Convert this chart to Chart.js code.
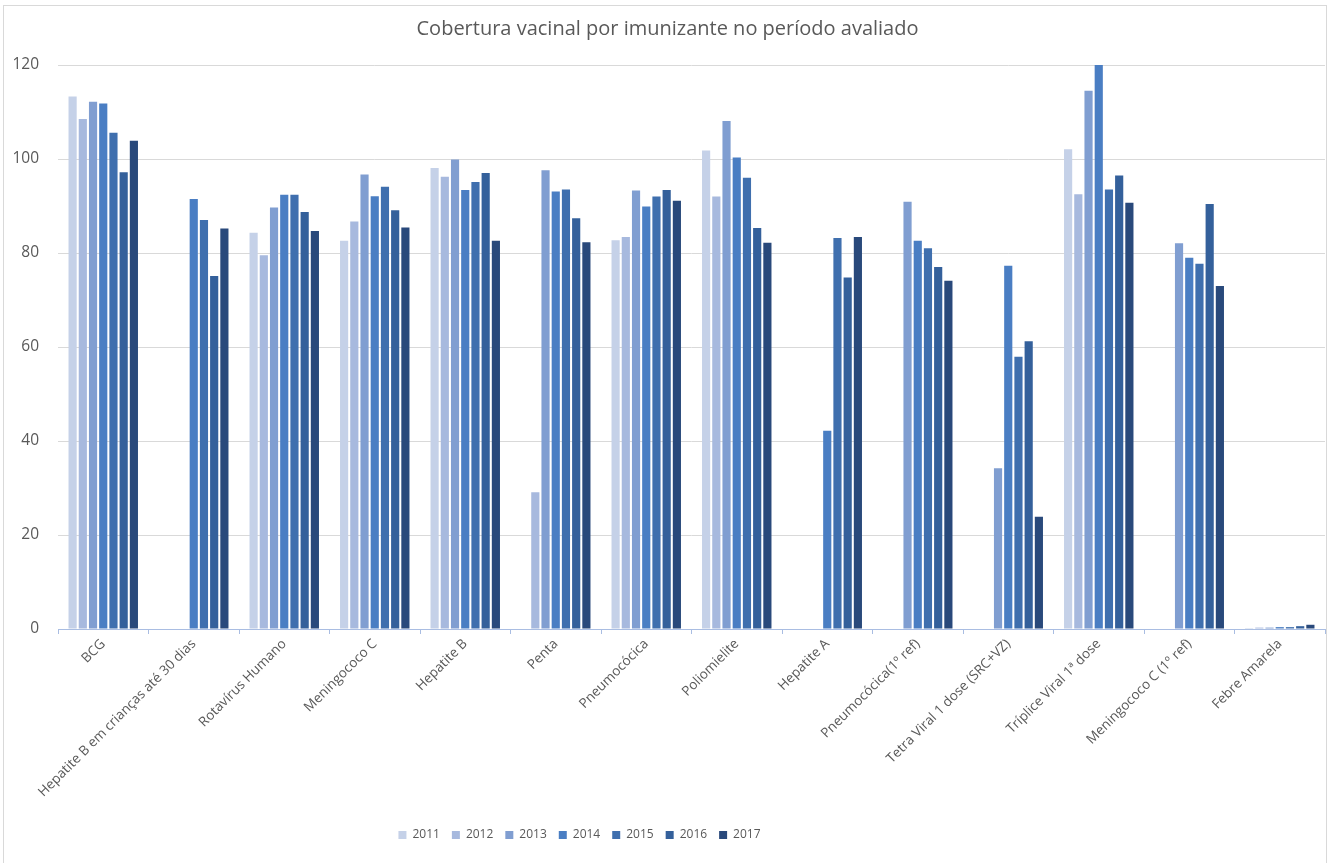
<!DOCTYPE html>
<html>
<head>
<meta charset="utf-8">
<script src="https://cdn.jsdelivr.net/npm/chart.js@4.4.1/dist/chart.umd.min.js"></script>
<style>
  html, body { margin: 0; padding: 0; background: #ffffff; }
  #wrap { width: 1334px; height: 863px; position: relative; }
</style>
</head>
<body>
<div id="wrap"><canvas id="c" width="1334" height="863"></canvas></div>
<script>
const categories = [
  "BCG",
  "Hepatite B em crianças até 30 dias",
  "Rotavírus Humano",
  "Meningococo C",
  "Hepatite B",
  "Penta",
  "Pneumocócica",
  "Poliomielite",
  "Hepatite A",
  "Pneumocócica(1º ref)",
  "Tetra Viral 1 dose (SRC+VZ)",
  "Tríplice Viral 1ª dose",
  "Meningococo C (1º ref)",
  "Febre Amarela"
];
const years = ["2011", "2012", "2013", "2014", "2015", "2016", "2017"];

const v2011 = [113.3, null, 84.3, 82.6, 98.1, null, 82.7, 101.8, null, null, null, 102.1, null, 0.2];
const v2012 = [108.5, null, 79.5, 86.7, 96.2, 29.1, 83.4, 92.0, null, null, null, 92.5, null, 0.3];
const v2013 = [112.2, null, 89.7, 96.7, 99.9, 97.6, 93.3, 108.1, null, 90.9, 34.2, 114.5, 82.1, 0.3];
const v2014 = [111.8, 91.5, 92.4, 92.1, 93.4, 93.1, 89.9, 100.3, 42.2, 82.6, 77.3, 120.0, 79.0, 0.4];
const v2015 = [105.6, 87.0, 92.4, 94.1, 95.1, 93.5, 92.0, 96.0, 83.2, 81.0, 57.9, 93.5, 77.7, 0.4];
const v2016 = [97.2, 75.1, 88.7, 89.1, 97.0, 87.4, 93.4, 85.3, 74.8, 77.0, 61.2, 96.5, 90.4, 0.6];
const v2017 = [103.9, 85.2, 84.7, 85.4, 82.6, 82.3, 91.1, 82.2, 83.4, 74.1, 23.9, 90.7, 73.0, 0.9];

const seriesValues = [v2011, v2012, v2013, v2014, v2015, v2016, v2017];
const seriesColors = ["#c5d1e8", "#a7b9de", "#809ed1", "#4a7ec3", "#3f6fae", "#34609b", "#29497b"];
const yTicks = [0, 20, 40, 60, 80, 100, 120];

const FONT = "'Open Sans', 'Noto Sans', sans-serif";
const TXT = "#595959";

const framePlugin = {
  id: 'frame',
  beforeDraw(chart) {
    const ctx = chart.ctx;
    ctx.save();
    ctx.fillStyle = '#ffffff';
    ctx.fillRect(0, 0, chart.width, chart.height);
    ctx.strokeStyle = '#d9d9d9';
    ctx.lineWidth = 1;
    ctx.strokeRect(3.5, 5.5, 1323, 880);
    ctx.restore();
    // the reference legend sits left of centre
    const lg = chart.legend;
    if (lg && !lg._shifted) {
      lg.left -= 88;
      lg.right -= 88;
      lg._shifted = true;
    }
  }
};

new Chart(document.getElementById('c'), {
  type: 'bar',
  data: {
    labels: categories,
    datasets: years.map((y, i) => ({
      label: y,
      data: seriesValues[i],
      backgroundColor: seriesColors[i],
      borderWidth: 0,
      categoryPercentage: 0.79,
      barPercentage: 0.8
    }))
  },
  options: {
    responsive: false,
    animation: false,
    layout: { padding: { left: 10, right: 9, top: 0, bottom: 12 } },
    plugins: {
      title: {
        display: true,
        text: "Cobertura vacinal por imunizante no período avaliado",
        color: TXT,
        font: { family: FONT, size: 20, weight: 'normal' },
        padding: { top: 17, bottom: 24 }
      },
      legend: {
        position: 'bottom',
        labels: {
          boxWidth: 8,
          boxHeight: 8,
          padding: 12,
          color: TXT,
          font: { family: FONT, size: 12 }
        }
      },
      tooltip: { enabled: false }
    },
    scales: {
      x: {
        grid: { offset: true, drawOnChartArea: false, drawTicks: true, tickLength: 5, color: '#a9bde2' },
        border: { display: true, color: '#a9bde2' },
        ticks: {
          maxRotation: 45, minRotation: 45, autoSkip: false,
          color: TXT, font: { family: FONT, size: 13.5 }, padding: 2
        },
        afterFit(s) { s.height = 188; }
      },
      y: {
        min: 0, max: 120,
        afterBuildTicks(s) { s.ticks = yTicks.map(v => ({ value: v })); },
        grid: { color: '#d9d9d9', drawTicks: false },
        border: { display: false },
        ticks: { color: TXT, font: { family: FONT, size: 15.5 }, padding: 19 },
        afterFit(s) { s.width = 48; }
      }
    }
  },
  plugins: [framePlugin]
});
</script>
</body>
</html>
